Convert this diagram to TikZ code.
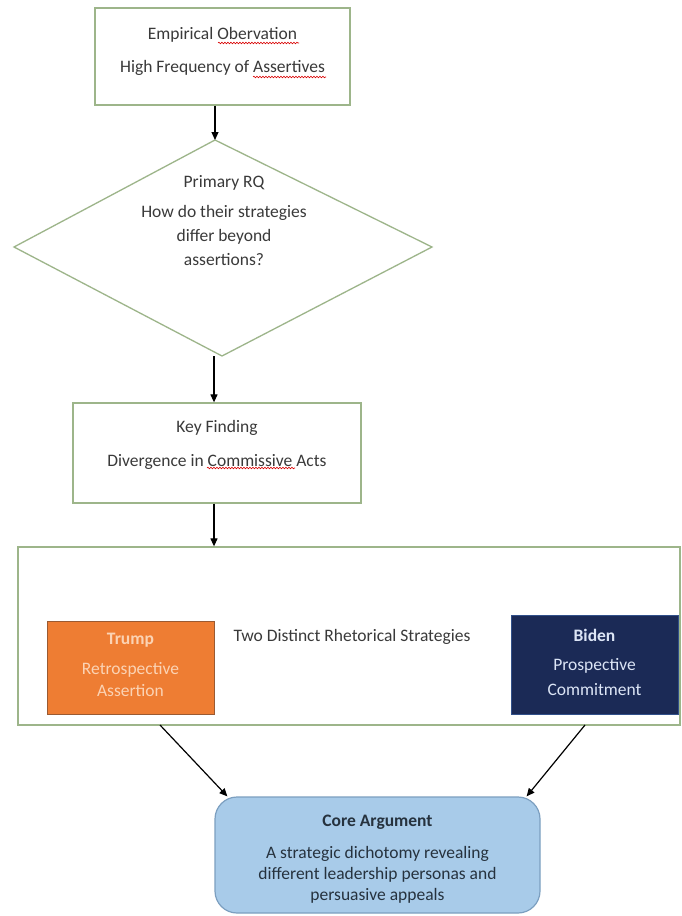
\documentclass[tikz,border=0pt]{standalone}
\usepackage{fontspec}
\setmainfont{Carlito}
\usetikzlibrary{arrows.meta,decorations.pathmorphing}
\definecolor{boxgreen}{HTML}{9DB58A}
\definecolor{txt}{HTML}{3A3A3A}
\definecolor{trumpor}{HTML}{EE7D33}
\definecolor{trumpbd}{HTML}{9A5A32}
\definecolor{trumptx}{HTML}{FBD3B4}
\definecolor{bidenbl}{HTML}{1B2A56}
\definecolor{bidenbd}{HTML}{31508A}
\definecolor{bidentx}{HTML}{DCE5F6}
\definecolor{corebl}{HTML}{A8CBE9}
\definecolor{corebd}{HTML}{7C9FC0}
\definecolor{coretx}{HTML}{26323E}
\begin{document}
\begin{tikzpicture}[x=1pt,y=-1pt,
  box/.style={draw=boxgreen,line width=1.3pt,fill=white,inner sep=0pt},
  txtn/.style={font=\fontsize{17.5}{22}\selectfont,text=txt,align=center,inner sep=0pt},
  arr/.style={-{Triangle[length=8pt,width=7pt]},line width=1.2pt,black},
  squig/.style={red!85!black,line width=0.6pt,decorate,decoration={snake,amplitude=0.8pt,segment length=3pt}}]

\useasboundingbox[fill=white] (0,0) rectangle (681,916);

% Box 1
\node[box,minimum width=255pt,minimum height=97pt] (obs) at (222.5,56.5) {};
\node[txtn] (obst) at (222.5,51.5) {Empirical Obervation\\[11pt]High Frequency of Assertives};
\draw[squig] (218,43) -- (299,43);
\draw[squig] (253,77) -- (326,77);

% Diamond
\coordinate (rqtop) at (215,140);
\coordinate (rqr) at (432,247);
\coordinate (rqbot) at (222,356);
\coordinate (rql) at (14,247);
\draw[box] (rqtop) -- (rqr) -- (rqbot) -- (rql) -- cycle;
\node[txtn,font=\fontsize{17.5}{24}\selectfont] (rq) at (224,221) {Primary RQ\\[6pt]How do their strategies\\differ beyond\\assertions?};

\draw[arr] (obs.south -| rqtop) -- (rqtop);

% Key finding
\node[box,minimum width=288pt,minimum height=100pt] (key) at (217,453) {};
\node[txtn] (keyt) at (217,445) {Key Finding\\[12pt]Divergence in Commissive Acts};
\draw[squig] (207,468) -- (295,468);

\draw[arr] ([xshift=-3pt]key.north |- rqbot) -- ([xshift=-3pt]key.north);

% Big container
\node[box,minimum width=662pt,minimum height=178pt] (big) at (349,636) {};
\draw[arr] ([xshift=-3pt]key.south) -- ([xshift=-3pt]key.south |- big.north);

\node[draw=trumpbd,fill=trumpor,line width=1pt,minimum width=167pt,minimum height=93pt,inner sep=0pt] (trump) at (130.5,667.5) {};
\node[txtn,text=trumptx] (trumpt) at (130.5,665) {\textbf{Trump}\\[8pt]Retrospective\\Assertion};

\node[draw=bidenbd,fill=bidenbl,line width=1pt,minimum width=167pt,minimum height=99pt,inner sep=0pt] (biden) at (594.5,664.5) {};
\node[txtn,text=bidentx,font=\fontsize{17.5}{25}\selectfont] (bident) at (594.5,662) {\textbf{Biden}\\[4pt]Prospective\\Commitment};

\node[txtn] (two) at (352,637) {Two Distinct Rhetorical Strategies};

% Core
\node[draw=corebd,fill=corebl,line width=1.2pt,rounded corners=22pt,minimum width=325pt,minimum height=116pt,inner sep=0pt] (core) at (377.5,855) {};
\node[txtn,text=coretx,font=\fontsize{17.5}{21}\selectfont] (coret) at (377.5,859) {\textbf{Core Argument}\\[11pt]A strategic dichotomy revealing\\different leadership personas and\\persuasive appeals};

\coordinate (bl) at (160,725);
\coordinate (br) at (585,725);
\draw[arr] (bl) -- ([xshift=13pt]core.north west);
\draw[arr] (br) -- ([xshift=-14pt]core.north east);
\end{tikzpicture}
\end{document}
